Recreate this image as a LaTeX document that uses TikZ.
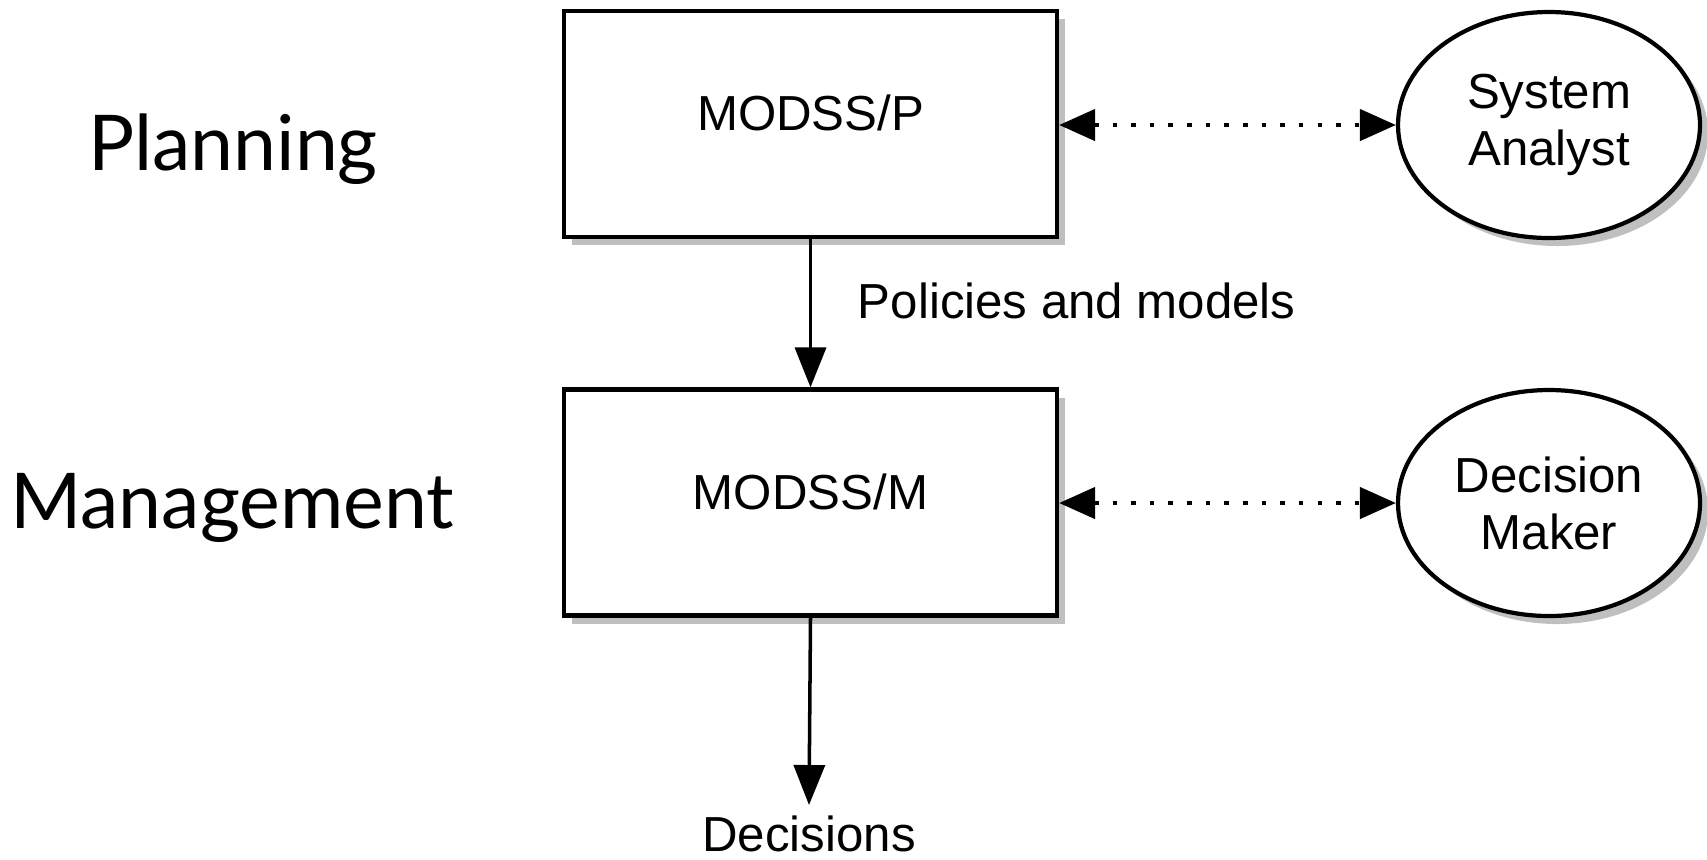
\documentclass[tikz,border=0pt]{standalone}
\usepackage{fontspec}
\setmainfont{Liberation Sans}
\newfontfamily\levelfont{Lato}
\usetikzlibrary{arrows.meta,shapes.geometric,shadows,positioning}

\tikzset{
	unit/.style={draw, line width=1.2pt, fill=white, minimum width=4.93cm, minimum height=2.26cm, inner sep=0pt,
		drop shadow={shadow xshift=0.08cm, shadow yshift=-0.08cm, opacity=0.5}},
	actor/.style={ellipse, draw, line width=1.2pt, fill=white, minimum width=3.02cm, minimum height=2.26cm, inner sep=0pt,
		align=center, font=\fontsize{14}{16.2}\selectfont,
		drop shadow={shadow xshift=0.08cm, shadow yshift=-0.08cm, opacity=0.5}},
	txt/.style={font=\fontsize{14}{16.2}\selectfont},
	level/.style={font=\levelfont\fontsize{21.9}{26}\selectfont, anchor=base},
	flow/.style={line width=1pt, -{Triangle[length=4mm, width=3.1mm]}},
	talk/.style={line width=1.3pt, dash pattern=on 1.3pt off 4pt,
		{Triangle[length=3.6mm, width=3.1mm]}-{Triangle[length=3.6mm, width=3.1mm]}}
}

\begin{document}
\begin{tikzpicture}
	
	\useasboundingbox (0,0) rectangle (17.07,-8.59);
	
	\node[level] (planning) at (2.33,-1.70) {Planning};
	\node[level] (management) at (2.32,-5.28) {Management};
	
	\node[unit] (modssp) at (8.105,-1.24) {};
	\node[unit] (modssm) at (8.105,-5.025) {};
	\node[txt] (ptext) at ([yshift=0.11cm]modssp.center) {MODSS/P};
	\node[txt] (mtext) at ([yshift=0.11cm]modssm.center) {MODSS/M};
	
	\node[actor] (analyst) at (15.49,-1.25) {System\\Analyst};
	\node[actor] (maker) at (15.49,-5.03) {Decision\\Maker};
	
	\node[txt, anchor=north, inner sep=0.1cm] (decisions) at (8.09,-8.05) {Decisions};
	
	\draw[flow] (modssp) -- (modssm) node[txt, pos=0.42, right=0.34cm] (policies) {Policies and models};
	\draw[flow] (modssm.south) -- (decisions.north);
	
	\draw[talk] (modssp.east |- analyst.west) -- (analyst.west);
	\draw[talk] (modssm.east |- maker.west) -- (maker.west);
	
\end{tikzpicture}
\end{document}
